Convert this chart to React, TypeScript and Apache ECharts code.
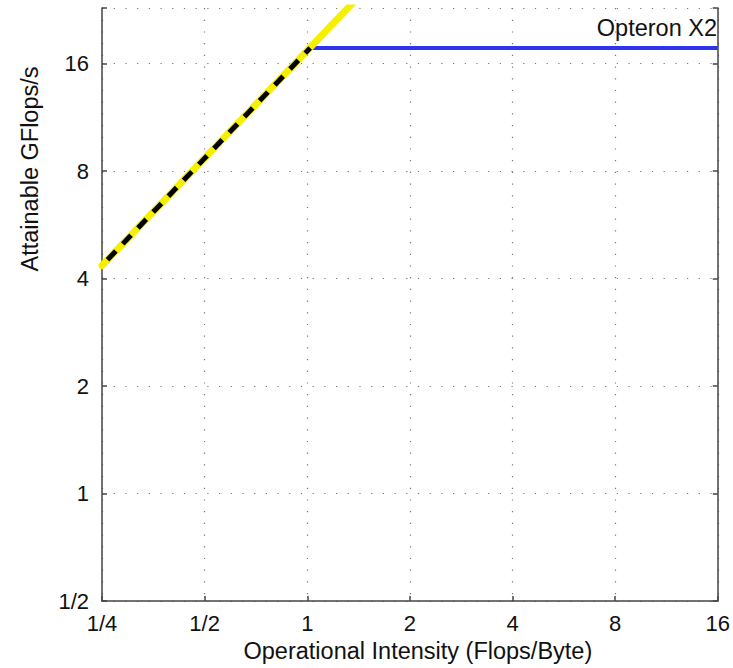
import React, { useEffect, useRef } from "react";
import * as echarts from "echarts";

// Raw values (Flops/Byte, GFlops/s)
const xTickValues = [0.25, 0.5, 1, 2, 4, 8, 16];
const yTickValues = [0.5, 1, 2, 4, 8, 16];
const xTickLabels = ["1/4", "1/2", "1", "2", "4", "8", "16"];
const yTickLabels = ["1/2", "1", "2", "4", "8", "16"];

const peakLine = [
  [1.02, 17.7],
  [16, 17.7],
];
const bandwidthLine = [
  [0.25, 4.35],
  [1.4, 24.36],
];
const bandwidthDashed = [
  [0.25, 4.35],
  [1.02, 17.7],
];

const X_MIN = 0.25;
const X_MAX = 16;
const Y_MIN = 0.5;
const Y_MAX = 22.9;

const FONT = "Liberation Sans, Arial, Helvetica, sans-serif";

const lg = (pts: number[][]) => pts.map(([x, y]) => [Math.log2(x), Math.log2(y)]);

function labelFor(v: number, ticks: number[], labels: string[]) {
  for (let i = 0; i < ticks.length; i++) {
    if (Math.abs(Math.log2(ticks[i]) - v) < 1e-6) return labels[i];
  }
  return "";
}

export default function App() {
  const ref = useRef<HTMLDivElement>(null);
  useEffect(() => {
    if (!ref.current) return;
    const chart = echarts.init(ref.current, undefined, { renderer: "svg" });
    const axisLine = { show: true, onZero: false, lineStyle: { color: "#444", width: 1.5 } };
    const axisTick = { show: true, inside: true, length: 5, lineStyle: { color: "#444", width: 1.5 } };
    const splitLine = { show: true, lineStyle: { color: "#777", width: 1.2, type: [1.2, 10.5] as any } };
    chart.setOption({
      animation: false,
      backgroundColor: "#fff",
      grid: { left: 102, top: 8, width: 616, height: 594, containLabel: false },
      xAxis: {
        type: "value",
        min: Math.log2(X_MIN),
        max: Math.log2(X_MAX),
        interval: 1,
        axisLine,
        axisTick,
        splitLine,
        axisLabel: {
          color: "#111",
          fontSize: 22,
          fontFamily: FONT,
          margin: 11,
          formatter: (v: number) => labelFor(v, xTickValues, xTickLabels),
        },
        name: "Operational Intensity (Flops/Byte)",
        nameLocation: "middle",
        nameGap: 38,
        nameTextStyle: { color: "#111", fontSize: 23.5, fontFamily: FONT, padding: [0, 0, 0, 16] },
      },
      yAxis: [
        {
          type: "value",
          min: Math.log2(Y_MIN),
          max: Math.log2(Y_MAX),
          interval: 1,
          axisLine,
          axisTick,
          splitLine,
          axisLabel: {
            color: "#111",
            fontSize: 22,
            fontFamily: FONT,
            margin: 13,
            formatter: (v: number) => labelFor(v, yTickValues, yTickLabels),
          },
        },
        {
          type: "value",
          position: "right",
          min: Math.log2(Y_MIN),
          max: Math.log2(Y_MAX),
          interval: 1,
          axisLine,
          axisTick,
          splitLine: { show: false },
          axisLabel: { show: false },
        },
      ],
      graphic: [
        {
          type: "text",
          x: 30,
          y: 169,
          rotation: Math.PI / 2,
          style: {
            text: "Attainable GFlops/s",
            fill: "#111",
            fontSize: 23.5,
            fontFamily: FONT,
            align: "center",
            verticalAlign: "middle",
          },
        },
        {
          type: "text",
          x: 717,
          y: 28,
          style: {
            text: "Opteron X2",
            fill: "#111",
            fontSize: 23.5,
            fontFamily: FONT,
            align: "right",
            verticalAlign: "middle",
          },
        },
      ],
      series: [
        {
          type: "line",
          data: lg(peakLine),
          showSymbol: false,
          symbol: "none",
          lineStyle: { color: "#2b35f0", width: 4 },
          z: 2,
        },
        {
          type: "line",
          data: lg(bandwidthLine),
          showSymbol: false,
          symbol: "none",
          lineStyle: { color: "#f5f000", width: 7, cap: "round" },
          z: 3,
        },
        {
          type: "line",
          data: lg(bandwidthDashed),
          showSymbol: false,
          symbol: "none",
          lineStyle: { color: "#000", width: 5, type: [12, 10], dashOffset: -8 },
          z: 4,
        },
      ],
    });
    return () => chart.dispose();
  }, []);
  return <div ref={ref} style={{ position: "absolute", left: 0, top: 0, width: 733, height: 668 }} />;
}
